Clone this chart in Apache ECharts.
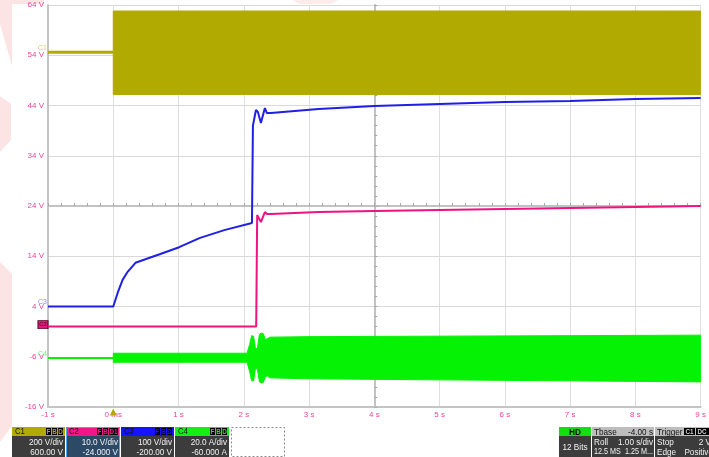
<!DOCTYPE html>
<html><head><meta charset="utf-8">
<script src="https://cdn.jsdelivr.net/npm/echarts@6/dist/echarts.min.js"></script>
<style>html,body{margin:0;padding:0;background:#fff}#c{width:709px;height:457px}</style>
</head><body><div id="c"></div>
<script>
// ---------- tick labels ----------
const xTickLabels = ['-1 s','0 ms','1 s','2 s','3 s','4 s','5 s','6 s','7 s','8 s','9 s'];
const yTickLabels = ['-16 V','-6 V','4 V','14 V','24 V','34 V','44 V','54 V','64 V'];

// ---------- C1 (olive) ----------
const c1PreT = [-1, 0];
const c1PreV = [54.6, 54.6];
const c1BandT = [0, 9];
const c1Upper = [62.8, 62.8];
const c1Lower = [46.2, 46.2];

// ---------- C2 (pink) ----------
const c2T = [-1, 2.19, 2.205, 2.262, 2.323, 2.354, 2.415, 3.146, 4, 5, 6, 7, 8, 9];
const c2V = [0, 0, 22.2, 20.8, 22.8, 22.4, 22.4, 22.8, 23.0, 23.2, 23.4, 23.6, 23.8, 24.0];

// ---------- C3 (blue) ----------
const c3T = [-1, 0, 0.067, 0.143, 0.22, 0.34, 0.71, 1.01, 1.32, 1.70, 2.125, 2.14, 2.186, 2.216, 2.262, 2.323, 2.354, 2.415, 3.146, 4, 5, 6, 7, 8, 9];
const c3V = [4.0, 4.0, 6.7, 9.3, 10.9, 12.7, 14.4, 15.8, 17.6, 19.2, 20.6, 40.0, 43.1, 42.7, 40.5, 43.5, 42.5, 42.5, 43.3, 43.9, 44.3, 44.7, 44.9, 45.3, 45.5];

// ---------- C4 (green) ----------
const c4PreT = [-1, 0];
const c4PreV = [-6.25, -6.25];
const c4BandT = [0, 2.05, 2.09, 2.12, 2.15, 2.18, 2.21, 2.24, 2.27, 2.30, 2.33, 2.36, 2.40, 3, 5, 7, 9];
const c4Upper = [-5.3, -5.3, -3.5, -1.8, -1.9, -4.5, -4.2, -1.5, -1.3, -1.4, -2.6, -2.4, -2.1, -2.0, -1.9, -1.8, -1.7];
const c4Lower = [-7.1, -7.1, -9.0, -10.8, -10.8, -8.2, -8.6, -11.0, -11.2, -11.1, -10.0, -9.8, -10.2, -10.4, -10.6, -10.8, -11.0];

// ---------- building ----------
const X_SHIFT = 4, Y_SHIFT = 24; // screen centre (4 s, 24 V) -> 0,0
const pts = (T, V) => T.map((t, i) => [t - X_SHIFT, V[i] - Y_SHIFT]);

const OLIVE = '#b1aa00', PINK = '#f0127e', BLUE = '#1f1fe8', GREEN = '#05f205';
const LBL = '#f0449a';
const FONT = "'Liberation Sans Narrow','Liberation Sans',Arial,sans-serif";

function bandSeries(T, U, L, color) {
  const up = pts(T, U), lo = pts(T, L);
  return {
    type: 'custom', silent: true, z: 3, clip: true,
    data: up,
    renderItem: function (params, api) {
      if (params.dataIndex !== 0) return null;
      const poly = up.concat(lo.slice().reverse()).map(p => api.coord(p));
      return { type: 'polygon', shape: { points: poly }, style: { fill: color, stroke: color, lineWidth: 1 } };
    }
  };
}

const chLabel = (txt, color, lvl) => ({
  coord: [-5, lvl - Y_SHIFT], symbol: 'rect', symbolSize: 0.1,
  label: { show: true, formatter: txt, position: 'left', distance: 1, offset: [0, -4], color: color, fontSize: 7, fontFamily: FONT }
});

const series = [
  bandSeries(c1BandT, c1Upper, c1Lower, OLIVE),
  { type: 'line', data: pts(c1PreT, c1PreV), symbol: 'none', lineStyle: { color: OLIVE, width: 3 }, z: 4,
    markPoint: { silent: true, data: [
      chLabel('C1', '#d6d170', c1PreV[0]),
      { coord: [0 - X_SHIFT, -16 - Y_SHIFT], symbol: 'triangle', symbolSize: [7, 7], symbolOffset: [0, 5],
        itemStyle: { color: OLIVE }, label: { show: false } }
    ] } },
  bandSeries(c4BandT, c4Upper, c4Lower, GREEN),
  { type: 'line', data: pts(c4PreT, c4PreV), symbol: 'none', lineStyle: { color: GREEN, width: 2 }, z: 4,
    markPoint: { silent: true, data: [chLabel('C4', '#7fe87f', c4PreV[0])] } },
  { type: 'line', data: pts(c2T, c2V), symbol: 'none', lineStyle: { color: PINK, width: 2 }, z: 5,
    markPoint: { silent: true, data: [{
      coord: [-5, c2V[0] - Y_SHIFT], symbol: 'rect', symbolSize: [10, 8], symbolOffset: [-5, -2],
      itemStyle: { color: '#e3197d', borderColor: '#5a0a2a', borderWidth: 1 },
      label: { show: true, formatter: 'C2', position: 'inside', color: '#3a0018', fontSize: 6, fontFamily: FONT }
    }] } },
  { type: 'line', data: pts(c3T, c3V), symbol: 'none', lineStyle: { color: BLUE, width: 2 }, z: 6,
    markPoint: { silent: true, data: [chLabel('C3', '#8c8cff', c3V[0])] } }
];

// ---------- info panel (graphic) ----------
const SX = 0.86;
function txt(x, y, s, fill, align, size, weight, sx) {
  return { type: 'text', z: 20, x: x, y: y, scaleX: sx || SX,
    style: { x: 0, y: 0, text: s, fill: fill, align: align || 'left', verticalAlign: 'middle',
      font: (weight || 'normal') + ' ' + (size || 9) + 'px ' + FONT } };
}
function rect(x, y, w, h, fill, stroke, dash) {
  return { type: 'rect', z: 19, shape: { x: x, y: y, width: w, height: h },
    style: { fill: fill || 'none', stroke: stroke || null, lineWidth: stroke ? 1 : 0, lineDash: dash || null } };
}
const g = [];
// watermark (pale)
const WM = '#fde4e4';
g.push({ type: 'polygon', z: 0, shape: { points: [[0,0],[44,0],[44,4],[12,4],[12,66],[0,24]] }, style: { fill: WM } });
g.push({ type: 'polygon', z: 0, shape: { points: [[0,96],[11,104],[11,140],[0,152]] }, style: { fill: WM } });
g.push({ type: 'polygon', z: 0, shape: { points: [[0,262],[12,274],[12,426],[0,442]] }, style: { fill: WM } });
g.push({ type: 'polygon', z: 0, shape: { points: [[292,0],[338,0],[330,4],[300,4]] }, style: { fill: '#fdeaea' } });

function chanBox(x, w, head, name, icons, l1, l2, body, border) {
  const y0 = 427;
  g.push(rect(x, y0, w, 9, head));
  g.push(rect(x, y0 + 9, w, 21, body));
  if (border) g.push(Object.assign(rect(x + 0.5, y0 + 0.5, w - 1, 30, null, border), { z: 21 }));
  g.push(txt(x + 3, y0 + 5, name, '#111', 'left', 9));
  let ix = x + w - 1;
  for (let i = icons.length - 1; i >= 0; i--) {
    const iw = icons[i].length > 1 ? 10 : 6;
    ix -= iw;
    g.push(Object.assign(rect(ix, y0 + 1, iw - 1, 7, '#000'), { z: 20 }));
    g.push(Object.assign(txt(ix + (iw - 1) / 2, y0 + 4.8, icons[i], head, 'center', 7, 'bold', 0.9), { z: 22 }));
  }
  g.push(txt(x + w - 2, y0 + 15, l1, '#f2f2f2', 'right', 9.5));
  g.push(txt(x + w - 2, y0 + 25, l2, '#f2f2f2', 'right', 9.5));
}
chanBox(12, 53, OLIVE, 'C1', ['F','B','D'], '200 V/div', '600.00 V', '#3c3c3c');
chanBox(66, 54, '#f2168a', 'C2', ['F','B','D1'], '10.0 V/div', '-24.000 V', '#2c4966', '#4aa8ee');
chanBox(121, 53, '#1414ff', 'C3', ['F','B','D'], '100 V/div', '-200.00 V', '#3c3c3c');
chanBox(175, 54, '#14f014', 'C4', ['F','B','D'], '20.0 A/div', '-60.000 A', '#3c3c3c');
g.push(rect(231.5, 427.5, 53, 29, '#fff', '#8a8a8a', [2, 2]));

// HD
g.push(rect(559, 427, 32, 9, '#10e010'));
g.push(rect(559, 436, 32, 21, '#3c3c3c'));
g.push(txt(575, 432, 'HD', '#000', 'center', 9.5, 'bold'));
g.push(txt(575, 447, '12 Bits', '#f2f2f2', 'center', 9.5));
// Tbase
g.push(rect(592, 427, 62, 9, '#bdbdbd'));
g.push(rect(592, 436, 62, 21, '#3c3c3c'));
g.push(txt(594, 432, 'Tbase', '#111', 'left', 9.5));
g.push(txt(653, 432, '-4.00 s', '#111', 'right', 9.5));
g.push(txt(594, 442, 'Roll', '#f2f2f2', 'left', 9.5));
g.push(txt(653, 442, '1.00 s/div', '#f2f2f2', 'right', 9.5));
g.push(txt(594, 452, '12.5 MS', '#f2f2f2', 'left', 9, null, 0.8));
g.push(txt(653, 452, '1.25 M...', '#f2f2f2', 'right', 9, null, 0.8));
// Trigger
g.push(rect(655, 427, 54, 9, '#bdbdbd'));
g.push(rect(655, 436, 54, 21, '#3c3c3c'));
g.push(txt(657, 432, 'Trigger', '#111', 'left', 9.5));
g.push(Object.assign(rect(684, 428, 11, 7, '#000'), { z: 20 }));
g.push(Object.assign(txt(689.5, 431.8, 'C1', '#cfcfcf', 'center', 7, 'bold', 0.9), { z: 22 }));
g.push(Object.assign(rect(696, 428, 13, 7, '#000'), { z: 20 }));
g.push(Object.assign(txt(702, 431.8, 'DC', '#cfcfcf', 'center', 7, 'bold', 0.9), { z: 22 }));
g.push(txt(657, 442, 'Stop', '#f2f2f2', 'left', 9.5));
g.push(txt(711, 442, '2 V', '#f2f2f2', 'right', 9.5));
g.push(txt(657, 452, 'Edge', '#f2f2f2', 'left', 9.5));
g.push(txt(713, 452, 'Positive', '#f2f2f2', 'right', 9.5));

const axisLbl = { color: LBL, fontSize: 8, fontFamily: FONT };

const option = {
  animation: false,
  backgroundColor: '#fff',
  grid: { left: 48, right: 5, top: 5, bottom: 50, containLabel: false },
  xAxis: [
    { type: 'value', min: -5, max: 5, interval: 1, position: 'bottom',
      axisLine: { show: true, onZero: false, lineStyle: { color: '#c4c4c4', width: 2 } },
      axisTick: { show: false },
      axisLabel: Object.assign({ margin: 4, formatter: v => xTickLabels[Math.round(v + 5)] }, axisLbl),
      splitLine: { show: true, lineStyle: { color: '#dedede', width: 1 } } },
    { type: 'value', min: -5, max: 5, interval: 1, position: 'top',
      axisLine: { show: true, onZero: true, onZeroAxisIndex: 0, lineStyle: { color: '#c2c2c2', width: 2 } },
      axisTick: { show: true, length: 3, lineStyle: { color: '#a8a8a8' } },
      minorTick: { show: true, splitNumber: 5, length: 3, lineStyle: { color: '#a8a8a8' } },
      axisLabel: { show: false }, splitLine: { show: false } }
  ],
  yAxis: [
    { type: 'value', min: -40, max: 40, interval: 10, position: 'left',
      axisLine: { show: true, onZero: false, lineStyle: { color: '#c4c4c4', width: 2 } },
      axisTick: { show: false },
      axisLabel: Object.assign({ margin: 4, formatter: v => yTickLabels[Math.round((v + 40) / 10)] }, axisLbl),
      splitLine: { show: true, lineStyle: { color: '#d9d9d9', width: 1 } } },
    { type: 'value', min: -40, max: 40, interval: 10, position: 'right',
      axisLine: { show: true, onZero: true, onZeroAxisIndex: 0, lineStyle: { color: '#c2c2c2', width: 2 } },
      axisTick: { show: true, length: 3, lineStyle: { color: '#a8a8a8' } },
      minorTick: { show: true, splitNumber: 5, length: 3, lineStyle: { color: '#a8a8a8' } },
      axisLabel: { show: false }, splitLine: { show: false } }
  ],
  graphic: g,
  series: series
};
const chart = echarts.init(document.getElementById('c'), null, { renderer: 'canvas' });
chart.setOption(option);
</script></body></html>
